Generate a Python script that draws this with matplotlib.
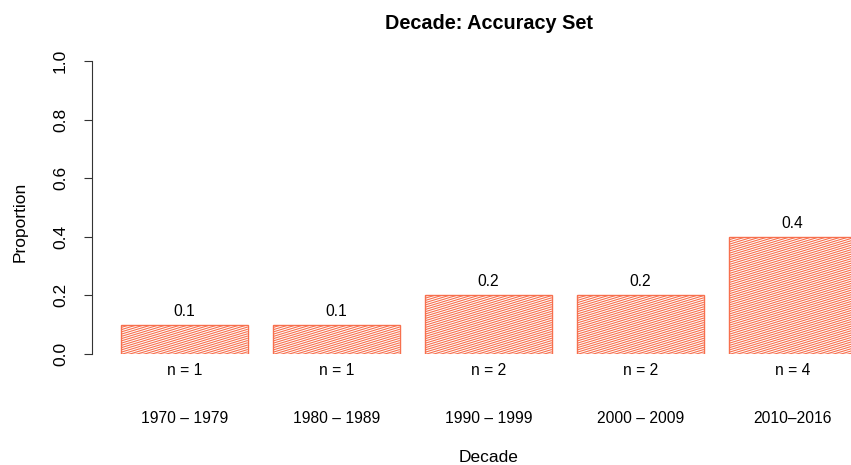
import numpy as np
import matplotlib
matplotlib.use("Agg")
import matplotlib.pyplot as plt

plt.rcParams['font.family'] = ['Liberation Sans', 'DejaVu Sans']

# data
decades = ["1970 \u2013 1979", "1980 \u2013 1989", "1990 \u2013 1999", "2000 \u2013 2009", "2010\u20132016"]
proportions = [0.1, 0.1, 0.2, 0.2, 0.4]
counts = [1, 1, 2, 2, 4]

bar_color = '#F7704E'

fig = plt.figure(figsize=(8.51, 4.65), dpi=100)
ax = fig.add_axes([95.7 / 851, 111 / 465, (851 - 95.7) / 851, 293 / 465])

width = 1.0
space = 0.2
lefts = [space + i * (width + space) for i in range(len(proportions))]
centers = [l + width / 2 for l in lefts]

ax.set_xlim(0, (851 - 95.7) / 126.7)
ax.set_ylim(0, 1)

bars = ax.bar(lefts, proportions, width=width, align='edge',
              facecolor='white', edgecolor=bar_color, linewidth=1.0)

# R-style density shading: thin lines at a shallow angle, clipped to each bar
px_per_x = 126.7
px_per_y = 293.0
angle = np.deg2rad(17)
slope = np.tan(angle) * px_per_x / px_per_y   # data-units slope
step = 2.25 / px_per_y                         # vertical spacing in data units
for rect, l, h in zip(bars, lefts, proportions):
    x0, x1 = l, l + width
    start = -slope * width - step
    offs = np.arange(start, h + step, step)
    for o in offs:
        ln, = ax.plot([x0, x1], [o, o + slope * width], color=bar_color,
                      linewidth=0.8, solid_capstyle='butt')
        ln.set_clip_path(rect)

# labels above and below bars
for c, p, n in zip(centers, proportions, counts):
    ax.annotate(f"{p:g}", (c, p), xytext=(0, 6.5), textcoords='offset points',
                ha='center', va='baseline', fontsize=11.25)
    ax.annotate(f"n = {n}", (c, 0), xytext=(0, -15), textcoords='offset points',
                ha='center', va='baseline', fontsize=11.25)

ax.set_xticks(centers)
ax.set_xticklabels(decades, fontsize=11.25)
ax.tick_params(axis='x', length=0, pad=41)

for s in ['top', 'right', 'bottom']:
    ax.spines[s].set_visible(False)
ax.spines['left'].set_position(('outward', 3))
ax.spines['left'].set_bounds(0, 1)
ax.spines['left'].set_linewidth(0.8)
ax.spines['left'].set_color('#333333')

ax.set_yticks([0, 0.2, 0.4, 0.6, 0.8, 1.0])
ax.set_yticklabels(["0.0", "0.2", "0.4", "0.6", "0.8", "1.0"], rotation=90,
                   va='center', fontsize=12.5)
ax.tick_params(axis='y', length=6, width=0.8, color='#333333', pad=11)

# axis titles placed like R's plot-region centred labels
fig.text(20 / 851, 1 - 222 / 465, "Proportion", rotation=90, ha='center',
         va='center', fontsize=12.5)
fig.text(489 / 851, 1 - 461.5 / 465, "Decade", ha='center', va='baseline',
         fontsize=12.5)

mid_x = (489 - 95.7) / (851 - 95.7)
ax.set_title("Decade: Accuracy Set", fontsize=14.3, fontweight='bold', pad=23,
             x=mid_x)

fig.savefig("out.png", dpi=100)
